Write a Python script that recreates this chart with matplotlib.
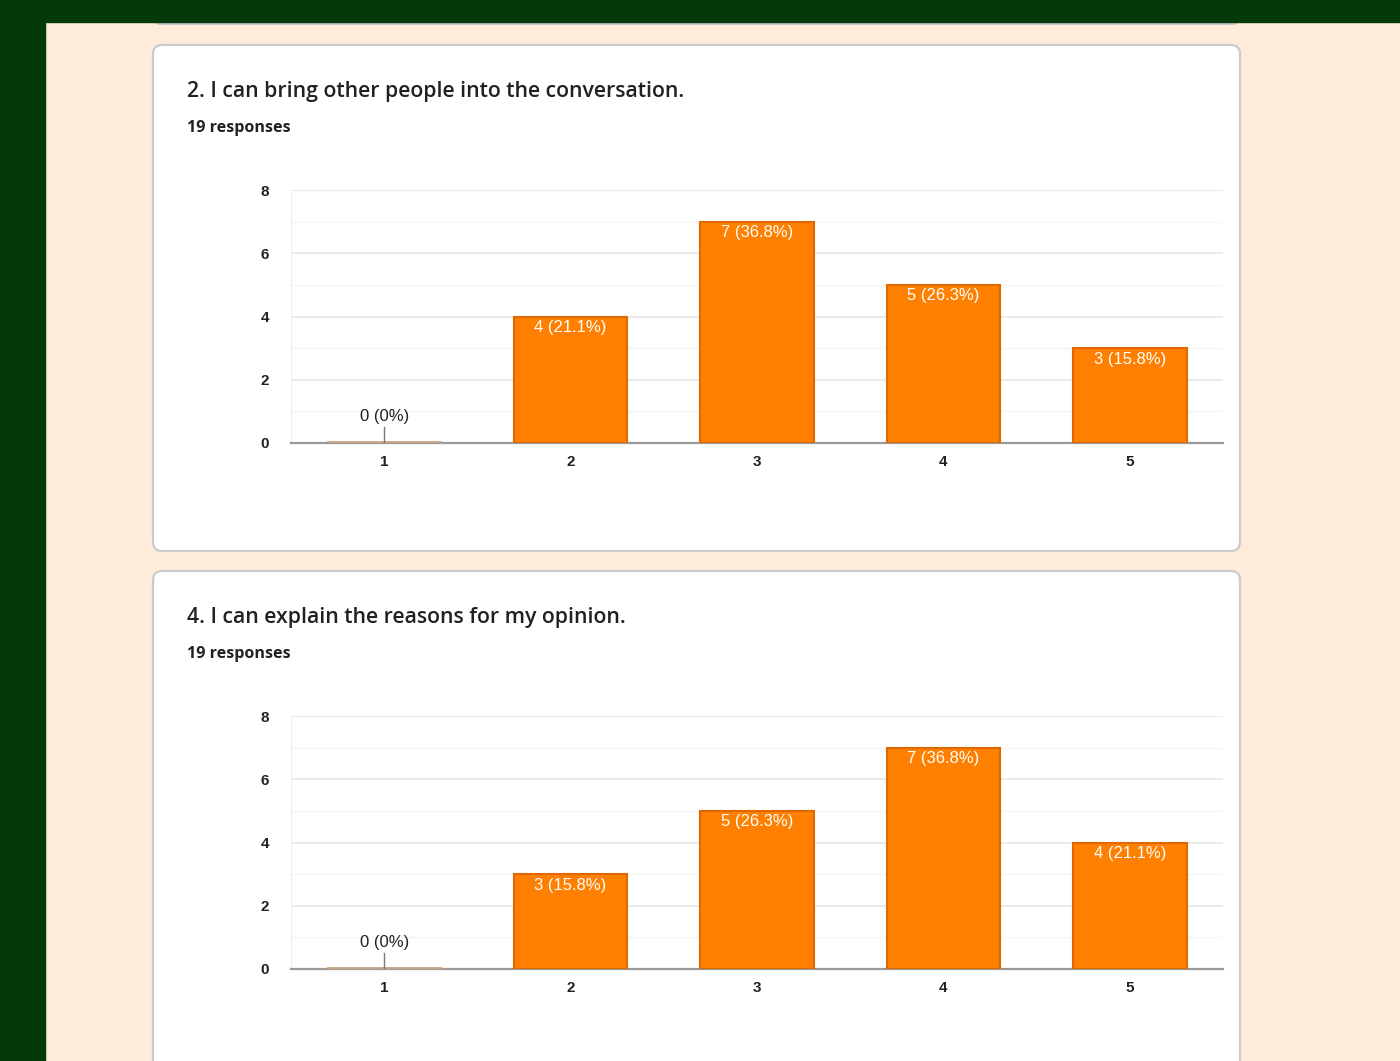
import matplotlib.pyplot as plt
from matplotlib.patches import FancyBboxPatch, Rectangle
import numpy as np

# Data
categories = ["1", "2", "3", "4", "5"]
q2_counts = [0, 4, 7, 5, 3]
q2_labels = ["0 (0%)", "4 (21.1%)", "7 (36.8%)", "5 (26.3%)", "3 (15.8%)"]
q4_counts = [0, 3, 5, 7, 4]
q4_labels = ["0 (0%)", "3 (15.8%)", "5 (26.3%)", "7 (36.8%)", "4 (21.1%)"]
titles = ["2. I can bring other people into the conversation.",
          "4. I can explain the reasons for my opinion."]
subtitle = "19 responses"

W, H = 1400, 1061
green = "#043A0A"
peach = "#FEEBD9"
orange = "#FF7F00"
orange_edge = "#E06800"

fig = plt.figure(figsize=(W / 100, H / 100), dpi=100)
fig.patch.set_facecolor(peach)

# background layer in pixel coordinates
bg = fig.add_axes([0, 0, 1, 1])
bg.set_xlim(0, W)
bg.set_ylim(H, 0)
bg.axis("off")
bg.add_patch(Rectangle((0, 0), 45, H, color=green, zorder=5))
bg.add_patch(Rectangle((0, 0), W, 22, color=green, zorder=5))

# previous card bottom edge peeking under the top strip
bg.add_patch(FancyBboxPatch((153, -30), 1087, 54, boxstyle="round,pad=0,rounding_size=8",
                            fc="white", ec="#C8C8C8", lw=1.5, zorder=2))
# cards
for top, bottom in [(45, 551), (571, 1100)]:
    bg.add_patch(FancyBboxPatch((153, top), 1087, bottom - top,
                                boxstyle="round,pad=0,rounding_size=9",
                                fc="white", ec="#CBCBCB", lw=1.6, zorder=2))

for top, title in [(45, titles[0]), (571, titles[1])]:
    bg.text(187, top + 46, title, fontsize=15.3, family="Open Sans", weight="semibold",
            color="#202124", va="center", ha="left", zorder=3)
    bg.text(187, top + 83, subtitle, fontsize=11.6, family="Open Sans", weight="bold",
            color="#202124", va="center", ha="left", zorder=3)


def draw_chart(ax, counts, labels):
    x = np.arange(len(categories))
    ax.set_xlim(-0.5, len(categories) - 0.5)
    ax.set_ylim(0, 8)
    ax.set_yticks([0, 2, 4, 6, 8])
    ax.set_yticks([1, 3, 5, 7], minor=True)
    ax.grid(axis="y", which="major", color="#E6E6E6", lw=1.2)
    ax.grid(axis="y", which="minor", color="#F4F4F4", lw=1.0)
    ax.set_axisbelow(True)
    for s in ["top", "right"]:
        ax.spines[s].set_visible(False)
    ax.spines["left"].set_color("#F0F0F0")
    ax.spines["bottom"].set_color("#9A9A9A")
    ax.spines["bottom"].set_linewidth(1.6)
    ax.tick_params(axis="both", which="both", length=0, labelsize=11, colors="#222222")
    ax.tick_params(axis="y", pad=16)
    ax.tick_params(axis="x", pad=9)
    ax.set_xticks(x)
    ax.set_xticklabels(categories, fontweight="bold", family="Liberation Sans")
    for t in ax.get_yticklabels():
        t.set_fontweight("bold")
        t.set_family("Liberation Sans")
    ax.bar(x, counts, width=0.61, color=orange, edgecolor=orange_edge, lw=1.5, zorder=3)
    for xi, c, lab in zip(x, counts, labels):
        if c == 0:
            ax.plot([xi - 0.3, xi + 0.3], [0.02, 0.02], color="#C9A584", lw=2, zorder=3)
            ax.plot([xi, xi], [0, 0.5], color="#777777", lw=1, zorder=4)
            ax.text(xi, 0.85, lab, ha="center", va="center", fontsize=12,
                    family="Liberation Sans", color="#222222", zorder=4)
        else:
            ax.text(xi, c - 0.35, lab, ha="center", va="center", fontsize=12,
                    family="Liberation Sans", color="white", zorder=4)


ax1 = fig.add_axes([291 / W, (H - 443) / H, 932 / W, 253 / H])
draw_chart(ax1, q2_counts, q2_labels)
ax2 = fig.add_axes([291 / W, (H - 969) / H, 932 / W, 253 / H])
draw_chart(ax2, q4_counts, q4_labels)

fig.savefig("out.png", dpi=100, facecolor=peach)
